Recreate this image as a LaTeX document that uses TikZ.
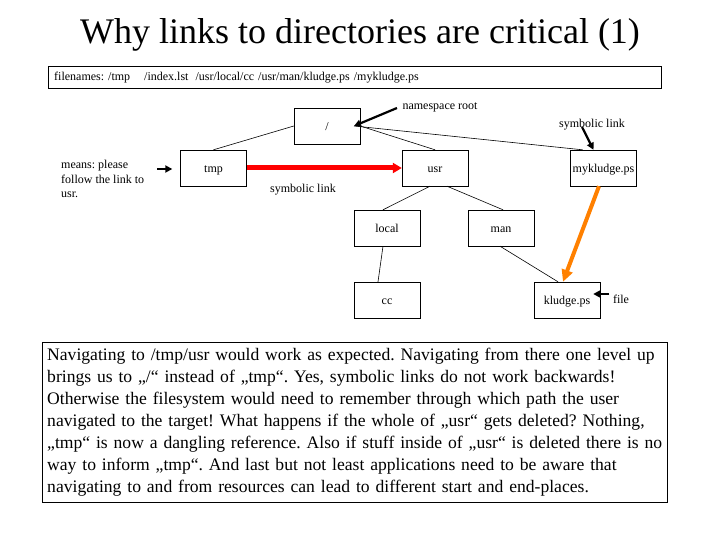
\documentclass[tikz,border=0pt]{standalone}
\usepackage{fontspec}
\setmainfont{Liberation Serif}
\usetikzlibrary{arrows.meta}

\tikzset{
  dirbox/.style={draw, minimum width=66pt, minimum height=36pt, inner sep=0pt,
    text height=1.9ex, text depth=.15ex},
  pointer/.style={line width=2.2pt, -{Triangle[length=7pt,width=7pt]}},
  link/.style={line width=0.6pt}
}

\begin{document}
\frenchspacing
\begin{tikzpicture}[x=1pt,y=-1pt,font=\fontsize{12}{14}\selectfont]
\useasboundingbox (0,0) rectangle (720,540);

\node (title) at (360,35) {\fontsize{36}{40}\selectfont Why links to directories are critical (1)};

\node (files) [draw, anchor=north west, minimum width=613pt, minimum height=22pt,
  inner xsep=6pt, inner ysep=0pt, text width=601pt, align=left] at (48,66)
  {filenames: /tmp\hspace{14pt}/index.lst\hspace{7pt}/usr/local/cc /usr/man/kludge.ps /mykludge.ps};

% the tree
\node[dirbox] (root) at (327,126) {/};
\node[dirbox] (tmp) at (213.5,168) {tmp};
\node[dirbox] (usr) at (435,168) {usr};
\node[dirbox] (myk) at (603.5,168) {mykludge.ps};
\node[dirbox] (local) at (387,228) {local};
\node[dirbox] (man) at (501,228) {man};
\node[dirbox] (cc) at (387,300) {cc};
\node[dirbox] (kludge) at (567,300) {kludge.ps};

\coordinate (rootpt) at (354,126);
\draw[link] (root.west) -- (tmp.north);
\draw[link] (root.east) -- (usr.north);
\draw[link] (rootpt) -- ([xshift=-21pt]myk.north);
\draw[link] ([xshift=-5pt]usr.south) -- ([xshift=-4pt]local.north);
\draw[link] ([xshift=12pt]usr.south) -- ([xshift=2pt]man.north);
\draw[link] ([xshift=-4pt]local.south) -- ([xshift=-9pt]cc.north);
\draw[link] ([xshift=-1pt]man.south) -- ([xshift=-9pt]kludge.north);

% labels
\node (nsroot) at (440,107) {namespace root};
\node (symlab) at (592,125) {symbolic link};
\node (redlab) at (303,190) {symbolic link};
\node (filelab) at (621,299) {file};
\node (means) [anchor=north west, align=left, inner sep=0pt,
  font=\fontsize{12}{14.5}\selectfont] at (61,160) {means: please\\follow the link to\\usr.};
\coordinate (meanstail) at (157,169);

% arrows
\draw[pointer] ([xshift=-2pt,yshift=-1pt]nsroot.west) -- (rootpt);
\draw[pointer] ([xshift=-10pt,yshift=-2pt]symlab.center) -- ([xshift=-10pt]myk.north);
\draw[pointer] ([yshift=5pt]filelab.west) -- ([xshift=-7pt,yshift=6pt]kludge.east);
\draw[pointer] (meanstail) -- ([xshift=-8pt,yshift=-1pt]tmp.west);
\draw[red, line width=5pt, -{Triangle[length=9pt,width=10pt]}] (tmp.east) -- (usr.west);
\draw[orange, line width=4pt, -{Triangle[length=12pt,width=11pt]}]
  ([xshift=-4.5pt]myk.south) -- ([xshift=-4pt]kludge.north);

\node (story) [draw, anchor=north west, minimum width=625pt, minimum height=160pt,
  inner xsep=5pt, inner ysep=4pt, text width=615pt, align=left,
  font=\fontsize{17.6}{22}\selectfont] at (42,342)
  {Navigating to /tmp/usr would work as expected. Navigating from there one level up\\
   brings us to „/“ instead of „tmp“. Yes, symbolic links do not work backwards!\\
   Otherwise the filesystem would need to remember through which path the user\\
   navigated to the target! What happens if the whole of „usr“ gets deleted? Nothing,\\
   „tmp“ is now a dangling reference. Also if stuff inside of „usr“ is deleted there is no\\
   way to inform „tmp“. And last but not least applications need to be aware that\\
   navigating to and from resources can lead to different start and end-places.};
\end{tikzpicture}
\end{document}
